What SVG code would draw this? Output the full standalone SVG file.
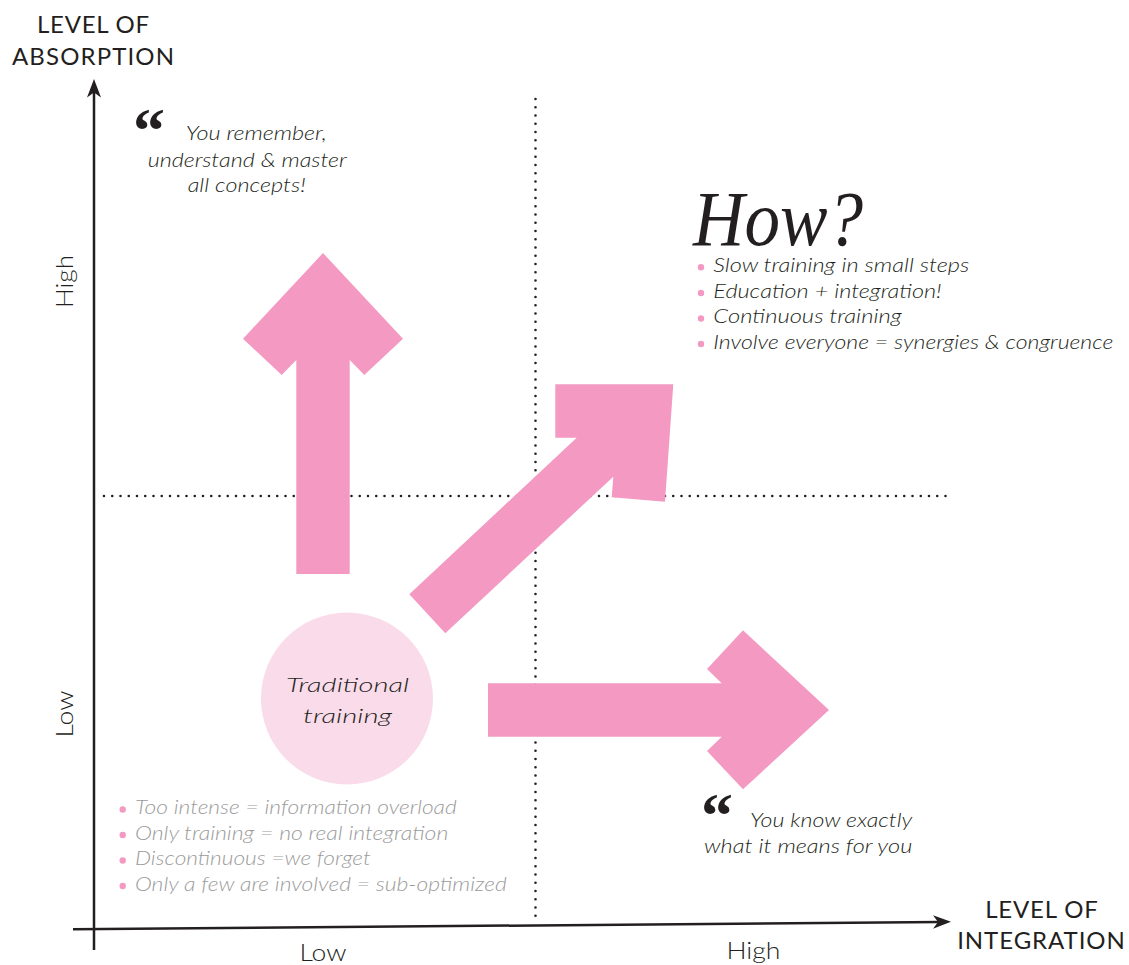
<svg xmlns="http://www.w3.org/2000/svg" width="1129" height="965" viewBox="0 0 1129 965">
<defs>
<style>
.axis{stroke:#231f20;stroke-width:2.5;fill:none}
.head{fill:#231f20}
.dot{stroke:#231f20;stroke-width:2.6;stroke-dasharray:0 8.25;stroke-linecap:round;fill:none}
.big{fill:#f49ac2}
.cap{font-family:Lato,"Open Sans",sans-serif;font-size:24px;fill:#231f20;text-anchor:middle}
.lvl{font-family:Lato,"Open Sans",sans-serif;font-size:24px;font-weight:300;fill:#231f20;text-anchor:middle}
.it{font-family:Lato,"Open Sans",sans-serif;font-style:italic;font-weight:300;font-size:19px;fill:#231f20}
.gray{font-family:Lato,"Open Sans",sans-serif;font-style:italic;font-weight:300;font-size:19px;fill:#9b9b9b}
.q{font-family:"Liberation Serif",serif;font-weight:bold;font-size:64px;fill:#231f20}
.bul{fill:#f49ac2}
</style>
</defs>
<rect width="1129" height="965" fill="#ffffff"/>

<g id="grid">
<line class="dot" x1="104" y1="496" x2="952" y2="496"/>
<line class="dot" x1="535.5" y1="99" x2="535.5" y2="921"/>
</g>

<g id="axes">
<line class="axis" x1="94" y1="92" x2="94" y2="950"/>
<path class="head" d="M94,79 L101,97.5 L94,92.5 L87,97.5 Z"/>
<line class="axis" x1="73" y1="929.3" x2="940" y2="922"/>
<path class="head" d="M951,921.8 L933,928.8 L938,922 L933,915.3 Z"/>
</g>

<g id="axis-labels">
<text class="cap" x="93" y="33.3" textLength="112" lengthAdjust="spacing">LEVEL OF</text>
<text class="cap" x="93" y="65" textLength="162" lengthAdjust="spacing">ABSORPTION</text>
<text class="cap" x="1041.5" y="918.3" textLength="112.6" lengthAdjust="spacing">LEVEL OF</text>
<text class="cap" x="1041" y="949.3" textLength="167.7" lengthAdjust="spacing">INTEGRATION</text>
<text class="lvl" transform="translate(72.5,281.5) rotate(-90)" textLength="53" lengthAdjust="spacingAndGlyphs">High</text>
<text class="lvl" transform="translate(72.5,714) rotate(-90)" textLength="47" lengthAdjust="spacingAndGlyphs">Low</text>
<text class="lvl" x="323" y="961" textLength="47" lengthAdjust="spacingAndGlyphs">Low</text>
<text class="lvl" x="753.5" y="958.5" textLength="54" lengthAdjust="spacingAndGlyphs">High</text>
</g>

<g id="connectors">
<polygon id="arrow-up" class="big" points="323,253 403,338.7 364.3,375 349.7,360 349.7,574 296.3,574 296.3,360 281.7,375 243,338.7"/>
<polygon id="arrow-diagonal" class="big" points="409.3,594.3 576.7,437.7 555.3,437.7 555.3,384.3 673.3,384.3 665,501.7 611.7,497.3 613.3,476.7 445.3,633.3"/>
<polygon id="arrow-right" class="big" points="488,683.3 721.7,683.3 707,669 743,630.3 829,710 743,789.3 707,751 721.7,736.7 488,736.7"/>
</g>

<g id="traditional-training">
<circle cx="347" cy="698.5" r="86" fill="#fadbe9"/>
<text class="it" x="347.5" y="691.7" font-size="25" text-anchor="middle" textLength="123" lengthAdjust="spacingAndGlyphs">Traditional</text>
<text class="it" x="347.5" y="722.7" font-size="25" text-anchor="middle" textLength="89" lengthAdjust="spacingAndGlyphs">training</text>
</g>

<g id="quote-top">
<text class="q" x="133" y="152">“</text>
<text class="it" x="185.7" y="140" font-size="18" textLength="141" lengthAdjust="spacingAndGlyphs">You remember,</text>
<text class="it" x="147.7" y="166.7" font-size="18" textLength="199" lengthAdjust="spacingAndGlyphs">understand &amp; master</text>
<text class="it" x="187.7" y="191.7" font-size="18" textLength="118" lengthAdjust="spacingAndGlyphs">all concepts!</text>
</g>

<g id="how">
<text x="693" y="245" font-family="'Liberation Serif',serif" font-style="italic" font-size="78" fill="#231f20" textLength="170" lengthAdjust="spacingAndGlyphs">How?</text>
<circle class="bul" cx="701" cy="267.3" r="3.2"/>
<circle class="bul" cx="701" cy="293" r="3.2"/>
<circle class="bul" cx="701" cy="318.5" r="3.2"/>
<circle class="bul" cx="701" cy="344" r="3.2"/>
<text class="it" x="713.3" y="272" textLength="256" lengthAdjust="spacingAndGlyphs">Slow training in small steps</text>
<text class="it" x="713.3" y="297.5" textLength="228.4" lengthAdjust="spacingAndGlyphs">Education + integration!</text>
<text class="it" x="713.3" y="323" textLength="188.4" lengthAdjust="spacingAndGlyphs">Continuous training</text>
<text class="it" x="713.3" y="348.5" textLength="400" lengthAdjust="spacingAndGlyphs">Involve everyone = synergies &amp; congruence</text>
</g>

<g id="problems">
<circle class="bul" cx="122.7" cy="809.5" r="3.2"/>
<circle class="bul" cx="122.7" cy="835" r="3.2"/>
<circle class="bul" cx="122.7" cy="860.5" r="3.2"/>
<circle class="bul" cx="122.7" cy="886" r="3.2"/>
<text class="gray" x="135" y="814.3" textLength="321.7" lengthAdjust="spacingAndGlyphs">Too intense = information overload</text>
<text class="gray" x="135" y="840" textLength="313.3" lengthAdjust="spacingAndGlyphs">Only training = no real integration</text>
<text class="gray" x="135" y="865.3" textLength="235.7" lengthAdjust="spacingAndGlyphs">Discontinuous =we forget</text>
<text class="gray" x="135" y="890.7" textLength="371.7" lengthAdjust="spacingAndGlyphs">Only a few are involved = sub-optimized</text>
</g>

<g id="quote-bottom">
<text class="q" x="701" y="836.6">“</text>
<text class="it" x="750" y="827.3" font-size="18" textLength="162.3" lengthAdjust="spacingAndGlyphs">You know exactly</text>
<text class="it" x="704" y="852.7" font-size="18" textLength="208.3" lengthAdjust="spacingAndGlyphs">what it means for you</text>
</g>
</svg>
